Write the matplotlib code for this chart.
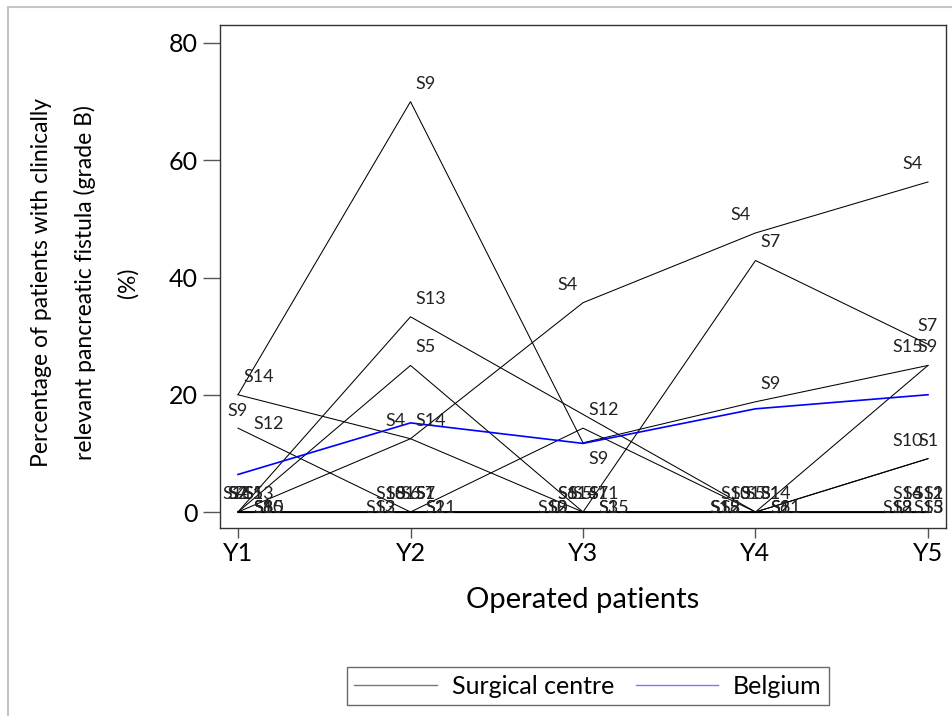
import matplotlib
matplotlib.use("Agg")
import matplotlib.pyplot as plt
import numpy as np
from matplotlib.lines import Line2D
from matplotlib.patches import Rectangle

plt.rcParams['font.family'] = ['Lato', 'DejaVu Sans']

# ---------------- data ----------------
years = ['Y1', 'Y2', 'Y3', 'Y4', 'Y5']
centres = ['S1', 'S2', 'S3', 'S4', 'S5', 'S6', 'S7', 'S8', 'S9', 'S10',
           'S11', 'S12', 'S13', 'S14', 'S15']
nan = np.nan
s1 = [0, 0, 0, 0, 9.1]
s2 = [0, 0, 0, 0, 0]
s3 = [0, 0, 0, 0, 0]
s4 = [0, 12.5, 35.7, 47.6, 56.3]
s5 = [0, 25.0, 0, 0, 0]
s6 = [0, 0, 0, 0, 0]
s7 = [0, 0, 0, 42.9, 28.6]
s8 = [0, 0, 0, 0, 0]
s9 = [20.0, 70.0, 11.8, 18.8, 25.0]
s10 = [0, 0, 0, 0, 9.1]
s11 = [0, 0, 0, 0, 0]
s12 = [14.3, 0, 14.3, 0, 0]
s13 = [0, 33.3, nan, 0, 0]
s14 = [20.0, 12.5, 0, 0, 0]
s15 = [0, 0, 0, 0, 25.0]
belgium = [6.4, 15.2, 11.7, 17.6, 20.0]

series = dict(zip(centres, [s1, s2, s3, s4, s5, s6, s7, s8, s9, s10,
                            s11, s12, s13, s14, s15]))

# label anchor preferences (style only): (centre, year index) -> position code
label_pref = {('S12', 0): 'R', ('S9', 0): 'BC',
              ('S3', 2): 'R', ('S9', 2): 'BR', ('S4', 2): 'TL',
              ('S4', 3): 'TL',
              ('S4', 4): 'TL', ('S7', 4): 'TC', ('S15', 4): 'TL',
              ('S9', 4): 'TC', ('S10', 4): 'TL', ('S1', 4): 'TC'}

# ---------------- figure ----------------
W, H = 952, 716
fig = plt.figure(figsize=(W / 100, H / 100), dpi=100)
ax = fig.add_axes([220 / W, 1 - 528 / H, (946 - 220) / W, (528 - 25) / H])

x = np.arange(len(years))
for name in centres:
    v = np.array(series[name], dtype=float)
    m = ~np.isnan(v)
    ax.plot(x[m], v[m], color='black', lw=0.75, solid_joinstyle='miter', zorder=2)
ax.plot(x, belgium, color='#0000ff', lw=1.2, zorder=3)

ax.set_xlim(-18 / 172.5, 4 + 18 / 172.5)
ax.set_ylim(-16 / 5.8625, 80 + 18 / 5.8625)
ax.set_xticks(x)
ax.set_xticklabels(years)
ax.set_yticks([0, 20, 40, 60, 80])
ax.tick_params(axis='y', direction='out', length=12.2, width=1, color='#555555',
               labelsize=18, pad=4)
ax.tick_params(axis='x', direction='out', length=7, width=1, color='#555555',
               labelsize=18, pad=3)
for sp in ax.spines.values():
    sp.set_color('#333333')
    sp.set_linewidth(1)

ax.set_xlabel('Operated patients', fontsize=21)
ax.xaxis.set_label_coords(0.5, (528 - 600) / 503)
ax.xaxis.label.set_va('center')
fig.text(85 / W, 1 - 283 / H,
         'Percentage of patients with clinically\nrelevant pancreatic fistula (grade B)\n(%)',
         rotation=90, ha='center', va='center', multialignment='center',
         fontsize=16.5, linespacing=2.22)

# legend
handles = [Line2D([], [], color='#777777', lw=1),
           Line2D([], [], color='#7777ff', lw=1)]
leg = fig.legend(handles, ['Surgical centre', 'Belgium'], ncol=2,
                 loc='center', bbox_to_anchor=(588 / W, 1 - 686 / H),
                 fontsize=18, frameon=True, fancybox=False, handlelength=3.3,
                 handletextpad=0.6, columnspacing=0.85, borderpad=0.3,
                 borderaxespad=0)
leg.get_frame().set_edgecolor('#444444')
leg.get_frame().set_linewidth(1)

# outer border
fig.add_artist(Rectangle((8 / W, -0.05), 1.2, 1 - 7 / H + 0.05,
                         transform=fig.transFigure, fill=False,
                         edgecolor='#c4c4c4', lw=1.5, clip_on=False))

# ---------------- point labels with simple collision avoidance ----------------
fig.canvas.draw()
renderer = fig.canvas.get_renderer()
axbox = ax.get_window_extent(renderer)

positions = {'TR': (5, 18, 'left'), 'TL': (-5, 18, 'right'),
             'BR': (5, -16, 'left'), 'BL': (-5, -16, 'right'),
             'TC': (0, 18, 'center'), 'BC': (0, -16, 'center'),
             'R': (15, 4, 'left'), 'L': (-15, 4, 'right')}
cand_order = ['TR', 'TL', 'BR', 'BL', 'TC', 'BC', 'R', 'L']
placed = []


def overlap(b, p, shrink=1.5):
    w = min(b.x1, p.x1) - max(b.x0, p.x0) - shrink
    h = min(b.y1, p.y1) - max(b.y0, p.y0) - shrink
    return max(w, 0) * max(h, 0)


def try_pos(ann, code):
    dx, dy, ha = positions[code]
    ann.xyann = (dx, dy)
    ann.set_ha(ha)
    b = ann.get_window_extent(renderer)
    if b.y0 < axbox.y0 - 1 or b.y1 > axbox.y1 + 1 or b.x0 < axbox.x0 - 1:
        return None
    if b.x1 > axbox.x1 - 2:
        ann.xyann = (dx + (axbox.x1 - 2) - b.x1, dy)
        b = ann.get_window_extent(renderer)
    return (sum(overlap(b, p) for p in placed), ann.xyann, ha)


items = []
for xi in range(len(years)):
    for name in sorted(centres):
        if not np.isnan(series[name][xi]):
            items.append((xi, name))
# preferred labels first
items.sort(key=lambda it: (it[0], (it[1], it[0]) not in label_pref))

for xi, name in items:
    val = series[name][xi]
    ann = ax.annotate(name, xy=(xi, val), xytext=(0, 0),
                      textcoords='offset pixels', fontsize=13,
                      va='center', ha='left', color='#222222', zorder=4)
    pref = label_pref.get((name, xi))
    order = [pref] if pref else cand_order
    best = None
    for code in order:
        r = try_pos(ann, code)
        if r is None:
            continue
        if best is None or r[0] < best[0]:
            best = r
        if r[0] == 0:
            break
    if best is None:
        best = (0, positions['TR'][:2], 'left')
    ann.xyann = best[1]
    ann.set_ha(best[2])
    placed.append(ann.get_window_extent(renderer))

fig.savefig('out.png', dpi=100)
